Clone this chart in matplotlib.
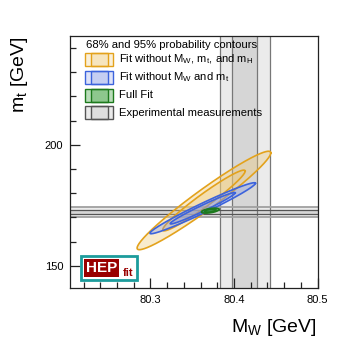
import numpy as np
import matplotlib.pyplot as plt
from matplotlib.patches import Rectangle
from matplotlib.ticker import MultipleLocator

plt.rcParams['font.family'] = 'Liberation Sans'
plt.rcParams['mathtext.fontset'] = 'custom'
plt.rcParams['mathtext.rm'] = 'Liberation Sans'
plt.rcParams['mathtext.it'] = 'Liberation Sans:italic'

# experimental measurements: central value, 1 sigma
mw_meas = [80.413, 0.015]
mt_meas = [172.2, 0.97]

# fits: centre MW, centre mt, sigma MW, sigma mt, correlation
fit_names = [r"Fit without M$_\mathrm{W}$, m$_\mathrm{t}$, and m$_\mathrm{H}$",
             r"Fit without M$_\mathrm{W}$ and m$_\mathrm{t}$",
             "Full Fit"]
fit_mw  = [80.364, 80.3625, 80.3715]
fit_mt  = [177.0, 173.8, 172.8]
fit_smw = [0.0327, 0.0258, 0.0043]
fit_smt = [8.3, 4.3, 0.42]
fit_rho = [0.966, 0.978, 0.5]

edge_cols = ['#e3a21c', '#3c63dc', '#1d7a1d']
fill_cols = ['#eecb7c', '#7d93e4', '#3a9e3a']
fill_alph = [0.38, 0.32, 0.55]

# 68% and 95% in 2D
kvals = [np.sqrt(5.991), np.sqrt(2.279)]

fig = plt.figure(figsize=(3.53, 3.40), dpi=100)
ax = fig.add_axes([0.1992, 0.1538, 0.7003, 0.7412])

# measurement bands
m, s = mw_meas
ax.axvspan(m - 2*s, m + 2*s, color='#ebebeb', lw=0, zorder=0.5)
ax.axvspan(m - s, m + s, color='#d6d6d6', lw=0, zorder=0.6)
for v in [m - 2*s, m + 2*s, m - s, m + s]:
    ax.axvline(v, color='#777777', lw=0.9, zorder=0.7)
m, s = mt_meas
ax.axhspan(m - 2*s, m + 2*s, color='#ebebeb', lw=0, zorder=0.5)
ax.axhspan(m - s, m + s, color='#d6d6d6', lw=0, zorder=0.6)
for v in [m - 2*s, m + 2*s]:
    ax.axhline(v, color='#a0a0a0', lw=1.3, zorder=0.7)
for v in [m - s, m + s]:
    ax.axhline(v, color='#555555', lw=0.9, zorder=0.7)

# contours
t = np.linspace(0, 2*np.pi, 300)
circ = np.vstack([np.cos(t), np.sin(t)])
for i in range(len(fit_names)):
    cov = np.array([[fit_smw[i]**2, fit_rho[i]*fit_smw[i]*fit_smt[i]],
                    [fit_rho[i]*fit_smw[i]*fit_smt[i], fit_smt[i]**2]])
    L = np.linalg.cholesky(cov)
    for k in kvals:
        pts = k * L @ circ
        xs = fit_mw[i] + pts[0]
        ys = fit_mt[i] + pts[1]
        ax.fill(xs, ys, color=fill_cols[i], alpha=fill_alph[i], lw=0, zorder=2 + i)
        ax.plot(xs, ys, color=edge_cols[i], lw=1.2, zorder=2.5 + i)

ax.set_xlim(80.204, 80.5)
ax.set_ylim(141, 245)
ax.set_xticks([80.3, 80.4, 80.5])
ax.set_yticks([150, 200])
ax.xaxis.set_minor_locator(MultipleLocator(0.02))
ax.yaxis.set_minor_locator(MultipleLocator(10))
ax.tick_params(which='both', direction='in', top=False, right=False,
               labelsize=8, color='#222222')
ax.tick_params(which='major', length=7, width=0.9, pad=5)
ax.tick_params(which='minor', length=4, width=0.9)
for sp in ax.spines.values():
    sp.set_color('#222222')
    sp.set_linewidth(0.9)

fig.text(317/353, 1 - 331.5/340, r"M$_\mathrm{W}$ [GeV]", fontsize=14,
         ha='right', va='baseline')
fig.text(20/353, 1 - 36/340, r"m$_\mathrm{t}$ [GeV]", fontsize=14,
         rotation=90, ha='center', va='top')

# legend drawn by hand
ax.text(0.0635, 0.963, "68% and 95% probability contours", fontsize=8.1,
        transform=ax.transAxes, ha='left', va='center', zorder=10)
leg_labels = fit_names + ["Experimental measurements"]
leg_edges = edge_cols + ['#555555']
leg_fills = fill_cols + ['#c8c8c8']
leg_alph = [0.28, 0.25, 0.35, 0.35]
leg_y = [0.906, 0.835, 0.764, 0.695]
x0, w, h = 0.0595, 0.1133, 0.0516
xi0, xi1 = 0.0825, 0.1513
for i in range(4):
    yc = leg_y[i]
    ax.add_patch(Rectangle((x0, yc - h/2), w, h, transform=ax.transAxes,
                           facecolor=leg_fills[i], alpha=leg_alph[i], lw=0, zorder=10))
    ax.add_patch(Rectangle((xi0, yc - h/2), xi1 - xi0, h, transform=ax.transAxes,
                           facecolor=leg_fills[i], alpha=leg_alph[i], lw=0, zorder=10))
    ax.add_patch(Rectangle((x0, yc - h/2), w, h, transform=ax.transAxes,
                           fill=False, edgecolor=leg_edges[i], lw=1.0, zorder=11))
    ax.add_patch(Rectangle((xi0, yc - h/2), xi1 - xi0, h, transform=ax.transAxes,
                           fill=False, edgecolor=leg_edges[i], lw=1.0, zorder=11))
    ax.text(0.198, yc, leg_labels[i], fontsize=8.1, transform=ax.transAxes,
            ha='left', va='center', zorder=11)

# HEPfit logo
ax.add_patch(Rectangle((0.0433, 0.0306), 0.2277, 0.0952, transform=ax.transAxes,
                       facecolor='white', edgecolor='#1c9c9c', lw=2, zorder=12))
ax.add_patch(Rectangle((0.0566, 0.0437), 0.1404, 0.069, transform=ax.transAxes,
                       facecolor='#990000', lw=0, zorder=13))
ax.text(0.1268, 0.0782, "HEP", color='white', fontsize=11, fontweight='bold',
        transform=ax.transAxes, ha='center', va='center', zorder=14)
ax.text(0.2354, 0.0476, "fit", color='#990000', fontsize=8, fontweight='bold',
        transform=ax.transAxes, ha='center', va='baseline', zorder=14)

fig.savefig("out.png", dpi=100)
